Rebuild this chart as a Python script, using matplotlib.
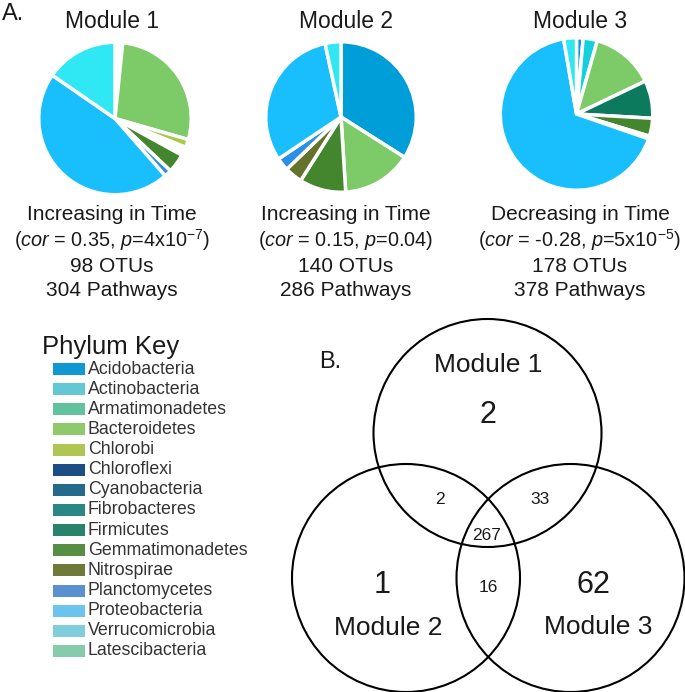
import matplotlib
matplotlib.use('Agg')
import matplotlib.pyplot as plt
from matplotlib.patches import Circle, Rectangle

plt.rcParams['font.family'] = ['Liberation Sans', 'DejaVu Sans']
plt.rcParams['mathtext.fontset'] = 'custom'
plt.rcParams['mathtext.rm'] = 'Liberation Sans'
plt.rcParams['mathtext.it'] = 'Liberation Sans:italic'

# phyla, in key order
phyla = ['Acidobacteria', 'Actinobacteria', 'Armatimonadetes', 'Bacteroidetes',
         'Chlorobi', 'Chloroflexi', 'Cyanobacteria', 'Fibrobacteres',
         'Firmicutes', 'Gemmatimonadetes', 'Nitrospirae', 'Planctomycetes',
         'Proteobacteria', 'Verrucomicrobia', 'Latescibacteria']
pie_colors = {'Acidobacteria': '#009ED8', 'Actinobacteria': '#12D0DC',
              'Armatimonadetes': '#3FC39A', 'Bacteroidetes': '#7DCB68',
              'Chlorobi': '#A8C84A', 'Chloroflexi': '#1D4D85',
              'Cyanobacteria': '#246A8A', 'Fibrobacteres': '#2A8786',
              'Firmicutes': '#0C7A5C', 'Gemmatimonadetes': '#43862E',
              'Nitrospirae': '#65722A', 'Planctomycetes': '#2A8FE6',
              'Proteobacteria': '#19BFFD', 'Verrucomicrobia': '#2FE8F3',
              'Latescibacteria': '#6CCCA6'}
key_colors = ['#0F98D4', '#63C7D4', '#62C29D', '#8FC96B', '#B0C652',
              '#1D4D85', '#246A8A', '#2A8786', '#27836A', '#568E43',
              '#6F7A39', '#5A90CF', '#6AC4EE', '#80CDDB', '#84CCAC']

# module composition (% of OTUs)
m1_phyla = ['Acidobacteria', 'Actinobacteria', 'Bacteroidetes', 'Chlorobi',
            'Chloroflexi', 'Cyanobacteria', 'Fibrobacteres',
            'Gemmatimonadetes', 'Planctomycetes', 'Proteobacteria',
            'Verrucomicrobia']
m1_vals = [0.8, 0.8, 27.5, 1.7, 0.6, 0.6, 0.6, 4.0, 1.5, 45.5, 15.2]
m2_phyla = ['Acidobacteria', 'Bacteroidetes', 'Gemmatimonadetes',
            'Nitrospirae', 'Planctomycetes', 'Proteobacteria',
            'Verrucomicrobia']
m2_vals = [34, 15, 10, 3.8, 2.8, 31, 3.4]
m3_phyla = ['Acidobacteria', 'Actinobacteria', 'Bacteroidetes', 'Firmicutes',
            'Gemmatimonadetes', 'Nitrospirae', 'Proteobacteria',
            'Verrucomicrobia']
m3_vals = [1.4, 3.0, 13.5, 8.0, 3.8, 0.6, 67, 2.7]

modules = ['Module 1', 'Module 2', 'Module 3']
trend = ['Increasing in Time', 'Increasing in Time', 'Decreasing in Time']
cor_txt = [r'($\mathit{cor}$ = 0.35, $\mathit{p}$=4x10$^{-7}$)',
           r'($\mathit{cor}$ = 0.15, $\mathit{p}$=0.04)',
           r'($\mathit{cor}$ = -0.28, $\mathit{p}$=5x10$^{-5}$)']
otus = [98, 140, 178]
pathways = [304, 286, 378]

# venn counts
venn_only = [2, 1, 62]
venn_12, venn_13, venn_23, venn_123 = 2, 33, 16, 267

W, H = 685, 692
fig = plt.figure(figsize=(W / 100, H / 100), dpi=100)
txt = '#1a1a1a'

# pies
pie_pos = [(115, 118.5, 77), (341, 117, 76), (576.5, 114, 77)]
pie_data = [(m1_phyla, m1_vals), (m2_phyla, m2_vals), (m3_phyla, m3_vals)]
for (cx, cy, r), (names, vals) in zip(pie_pos, pie_data):
    pax = fig.add_axes([(cx - r) / W, 1 - (cy + r) / H, 2 * r / W, 2 * r / H])
    pax.pie(vals, colors=[pie_colors[n] for n in names], startangle=90,
            counterclock=False, radius=1,
            wedgeprops=dict(edgecolor='white', linewidth=2.5))
    pax.set_xlim(-1.01, 1.01)
    pax.set_ylim(-1.01, 1.01)
    pax.set_aspect('equal')
    pax.axis('off')

ax = fig.add_axes([0, 0, 1, 1])
ax.set_xlim(0, W)
ax.set_ylim(H, 0)
ax.axis('off')

ax.text(2, 14, 'A.', fontsize=17, color=txt, va='center', ha='left')
col_x = [112, 346, 580]
for i, x in enumerate(col_x):
    ax.text(x, 21, modules[i], fontsize=16.5, color=txt, ha='center', va='center')
    ax.text(x, 214, trend[i], fontsize=15, color=txt, ha='center', va='center')
    ax.text(x, 240, cor_txt[i], fontsize=14.3, color=txt, ha='center', va='center')
    ax.text(x, 266, f'{otus[i]} OTUs', fontsize=15, color=txt, ha='center', va='center')
    ax.text(x, 291, f'{pathways[i]} Pathways', fontsize=15, color=txt,
            ha='center', va='center')

# phylum key
ax.text(42, 347, 'Phylum Key', fontsize=18.5, color=txt, ha='left', va='center')
for i, (name, col) in enumerate(zip(phyla, key_colors)):
    y = 369 + i * 20.14
    ax.add_patch(Rectangle((53, y - 6), 32, 12, facecolor=col, edgecolor='none'))
    ax.text(88, y, name, fontsize=12.8, color='#333333', ha='left', va='center')

# venn
circles = [(487.5, 433), (406, 578), (570.5, 578)]
for cx, cy in circles:
    ax.add_patch(Circle((cx, cy), 114, fill=False, edgecolor='black',
                        linewidth=1.5, clip_on=False))
ax.text(330, 362, 'B.', fontsize=17, color=txt, ha='center', va='center')
ax.text(488, 365, 'Module 1', fontsize=19, color=txt, ha='center', va='center')
ax.text(388, 628, 'Module 2', fontsize=19, color=txt, ha='center', va='center')
ax.text(598, 627, 'Module 3', fontsize=19, color=txt, ha='center', va='center')
ax.text(488, 415, str(venn_only[0]), fontsize=22, color=txt, ha='center', va='center')
ax.text(382, 585, str(venn_only[1]), fontsize=22, color=txt, ha='center', va='center')
ax.text(593, 585, str(venn_only[2]), fontsize=22, color=txt, ha='center', va='center')
ax.text(440, 500, str(venn_12), fontsize=12.5, color=txt, ha='center', va='center')
ax.text(540, 500, str(venn_13), fontsize=12.5, color=txt, ha='center', va='center')
ax.text(488, 587, str(venn_23), fontsize=12.5, color=txt, ha='center', va='center')
ax.text(487, 535, str(venn_123), fontsize=12.5, color=txt, ha='center', va='center')

fig.savefig('out.png', dpi=100)
